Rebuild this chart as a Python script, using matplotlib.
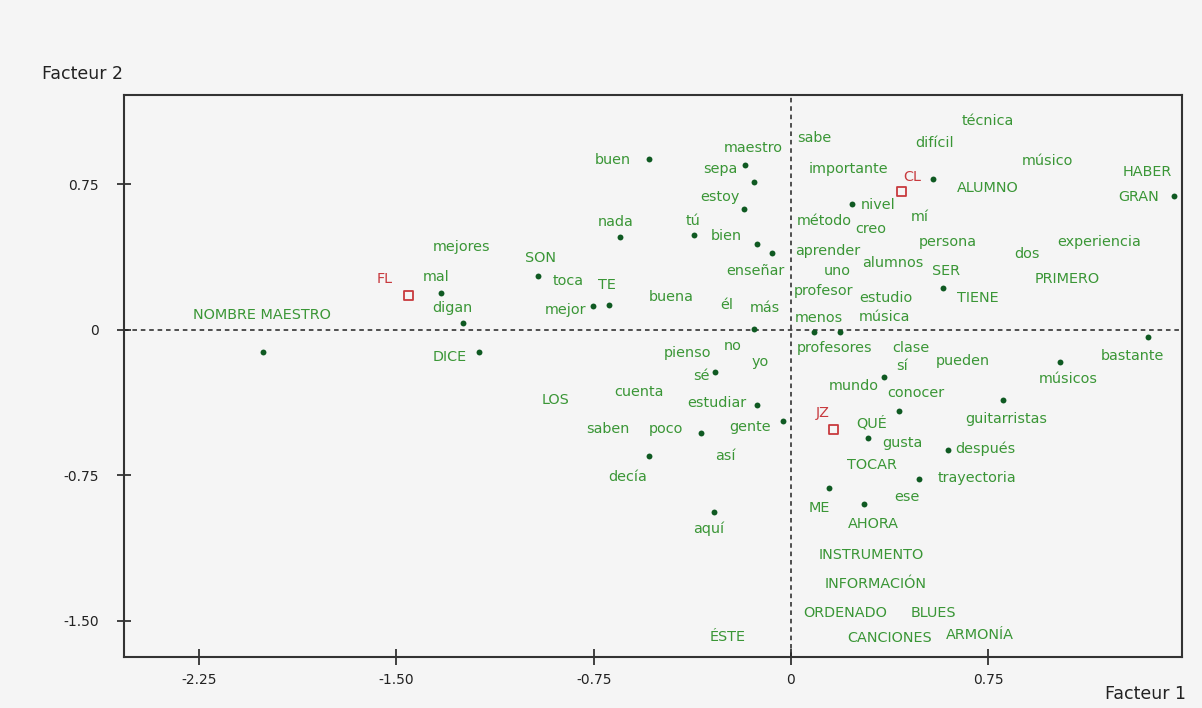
import matplotlib
matplotlib.use("Agg")
import matplotlib.pyplot as plt

plt.rcParams["font.family"] = ["DejaVu Sans"]

# word labels (factor 1, factor 2)
words = [
    "técnica", "sabe", "difícil", "maestro", "buen", "músico", "importante", "sepa",
    "HABER", "ALUMNO", "estoy", "GRAN", "nivel", "método", "mí", "creo", "nada", "tú",
    "bien", "mejores", "persona", "aprender", "experiencia", "dos", "SON", "enseñar",
    "uno", "alumnos", "SER", "mal", "toca", "TE", "PRIMERO", "profesor", "estudio",
    "TIENE", "buena", "él", "más", "digan", "mejor", "NOMBRE MAESTRO", "menos", "música",
    "profesores", "clase", "pienso", "no", "DICE", "sí", "yo", "pueden", "bastante", "sé",
    "músicos", "mundo", "conocer", "cuenta", "LOS", "estudiar", "QUÉ", "guitarristas",
    "saben", "poco", "gente", "gusta", "después", "así", "TOCAR", "decía", "trayectoria",
    "ese", "ME", "AHORA", "aquí", "INSTRUMENTO", "INFORMACIÓN", "ORDENADO", "BLUES",
    "ÉSTE", "CANCIONES", "ARMONÍA",
]
word_f1 = [
    0.749, 0.087, 0.548, -0.144, -0.677, 0.977, 0.217, -0.270,
    1.354, 0.749, -0.270, 1.323, 0.331, 0.125, 0.490, 0.304, -0.665, -0.373,
    -0.247, -1.251, 0.597, 0.141, 1.171, 0.897, -0.954, -0.137,
    0.175, 0.388, 0.589, -1.350, -0.848, -0.700, 1.049, 0.125, 0.361,
    0.711, -0.456, -0.243, -0.099, -1.289, -0.856, -2.011, 0.106, 0.354,
    0.167, 0.456, -0.395, -0.221, -1.297, 0.422, -0.118, 0.654, 1.300, -0.342,
    1.053, 0.240, 0.475, -0.578, -0.894, -0.281, 0.308, 0.817,
    -0.696, -0.475, -0.156, 0.422, 0.741, -0.251, 0.308, -0.620, 0.707,
    0.441, 0.106, 0.312, -0.312, 0.304, 0.323, 0.205, 0.540,
    -0.240, 0.376, 0.719,
]
word_f2 = [
    1.077, 0.990, 0.964, 0.938, 0.876, 0.871, 0.830, 0.830,
    0.814, 0.732, 0.686, 0.686, 0.644, 0.562, 0.582, 0.521, 0.557, 0.562,
    0.485, 0.428, 0.454, 0.407, 0.454, 0.392, 0.371, 0.304,
    0.304, 0.345, 0.304, 0.273, 0.253, 0.232, 0.263, 0.201, 0.165,
    0.165, 0.170, 0.129, 0.113, 0.113, 0.103, 0.077, 0.062, 0.067,
    -0.093, -0.093, -0.119, -0.082, -0.139, -0.186, -0.165, -0.160, -0.134, -0.237,
    -0.253, -0.289, -0.325, -0.320, -0.361, -0.376, -0.479, -0.459,
    -0.510, -0.510, -0.500, -0.582, -0.613, -0.649, -0.696, -0.758, -0.763,
    -0.861, -0.918, -1.000, -1.026, -1.160, -1.309, -1.459, -1.459,
    -1.582, -1.588, -1.572,
]

# individual points
pt_f1 = [
    -0.540, -0.175, -0.141, -0.179, -0.650, -0.369, -0.129, -0.072, 0.540, 0.232,
    1.456, 0.578, -1.331, -0.962, -0.753, -0.692, -1.247, -0.141, 0.087, 0.186,
    1.357, -2.008, -1.186, 1.023, -0.289, 0.354, 0.411, 0.806, -0.129, -0.030,
    -0.342, 0.293, 0.597, -0.540, 0.487, 0.144, 0.278, -0.293,
]
pt_f2 = [
    0.881, 0.851, 0.763, 0.624, 0.479, 0.490, 0.443, 0.397, 0.778, 0.649,
    0.691, 0.216, 0.191, 0.278, 0.124, 0.129, 0.036, 0.005, -0.010, -0.010,
    -0.036, -0.113, -0.113, -0.165, -0.216, -0.242, -0.418, -0.361, -0.387, -0.469,
    -0.531, -0.557, -0.619, -0.649, -0.768, -0.814, -0.897, -0.938,
]

# supplementary groups
groups = ["FL", "CL", "JZ"]
grp_f1 = [-1.456, 0.422, 0.160]
grp_f2 = [0.180, 0.711, -0.515]
grp_lab_f1 = [-1.544, 0.460, 0.122]
grp_lab_f2 = [0.263, 0.789, -0.428]

xticks = [-2.25, -1.50, -0.75, 0, 0.75]
xtick_labels = ["-2.25", "-1.50", "-0.75", "0", "0.75"]
yticks = [-1.50, -0.75, 0, 0.75]
ytick_labels = ["-1.50", "-0.75", "0", "0.75"]

bg = "#f5f5f5"
green = "#3a9636"
dot = "#0f5a22"
red = "#c83a3e"

fig = plt.figure(figsize=(12.02, 7.08), dpi=100, facecolor=bg)
ax = fig.add_axes([124 / 1202, 1 - 657 / 708, (1182 - 124) / 1202, (657 - 95) / 708])
ax.set_facecolor(bg)
ax.set_xlim(-2.536, 1.487)
ax.set_ylim(-1.686, 1.211)

ax.axhline(0, color="#222222", lw=1.1, ls=(0, (3, 2.5)), zorder=1)
ax.axvline(0, color="#222222", lw=1.1, ls=(0, (3, 2.5)), zorder=1)

ax.scatter(pt_f1, pt_f2, s=18, color=dot, marker="o", linewidths=0, zorder=3)
ax.scatter(grp_f1, grp_f2, s=42, marker="s", facecolors="none", edgecolors=red,
           linewidths=1.3, zorder=3)

for w, x, y in zip(words, word_f1, word_f2):
    ax.text(x, y, w, color=green, fontsize=10.4, ha="center", va="center", zorder=4)
for g, x, y in zip(groups, grp_lab_f1, grp_lab_f2):
    ax.text(x, y, g, color=red, fontsize=10.4, ha="center", va="center", zorder=4)

ax.set_xticks(xticks)
ax.set_xticklabels(xtick_labels)
ax.set_yticks(yticks)
ax.set_yticklabels(ytick_labels)
ax.tick_params(axis="x", direction="inout", length=11, width=1.2, colors="#222222",
               labelsize=10, pad=6)
ax.tick_params(axis="y", direction="inout", length=10, width=1.2, colors="#222222",
               labelsize=10, pad=13)
for s in ax.spines.values():
    s.set_color("#333333")
    s.set_linewidth(1.5)

fig.text(42 / 1202, 1 - 74 / 708, "Facteur 2", fontsize=12.5, color="#222222",
         ha="left", va="center")
fig.text(1186 / 1202, 1 - 694 / 708, "Facteur 1", fontsize=12.5, color="#222222",
         ha="right", va="center")

fig.savefig("out.png", dpi=100, facecolor=bg)
